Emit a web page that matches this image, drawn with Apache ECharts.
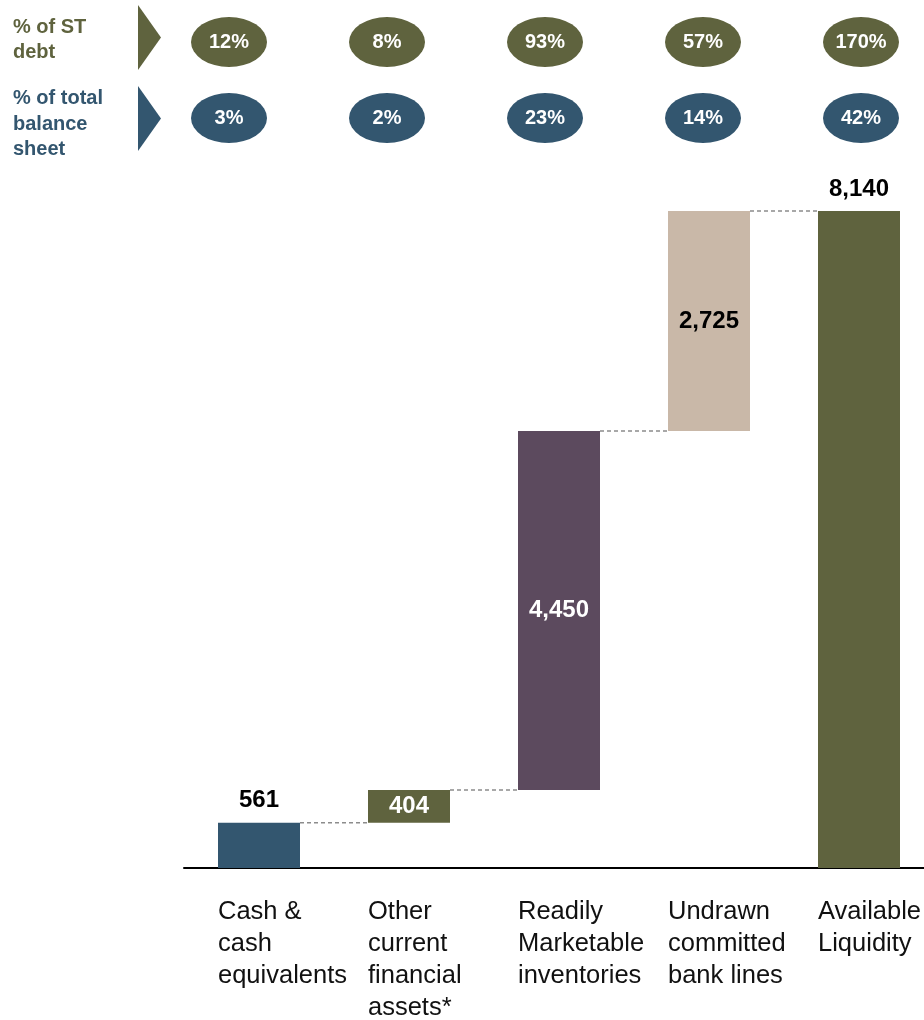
<!DOCTYPE html>
<html>
<head>
<meta charset="utf-8">
<script src="https://cdn.jsdelivr.net/npm/echarts@6/dist/echarts.min.js"></script>
<style>
  html, body { margin: 0; padding: 0; background: #fff; }
  #chart { width: 924px; height: 1020px; }
</style>
</head>
<body>
<div id="chart"></div>
<script>
// Liquidity build-up (waterfall)
const categories = [
  'Cash &\ncash\nequivalents',
  'Other\ncurrent\nfinancial\nassets*',
  'Readily\nMarketable\ninventories',
  'Undrawn\ncommitted\nbank lines',
  'Available\nLiquidity'
];
const values = [561, 404, 4450, 2725, 8140];
const isTotal = [false, false, false, false, true];
const valueLabels = ['561', '404', '4,450', '2,725', '8,140'];

// Ratio rows shown above the bars
const rowLabels = ['% of ST\ndebt', '% of total\nbalance\nsheet'];
const pctOfSTDebt = [12, 8, 93, 57, 170];
const pctOfBalanceSheet = [3, 2, 23, 14, 42];

const OLIVE = '#5f633e';
const BLUE = '#33566f';
const PURPLE = '#5c4a5e';
const TAN = '#c9b8a8';
const barColors = [BLUE, OLIVE, PURPLE, TAN, OLIVE];
const FONT = "'Liberation Sans', Arial, sans-serif";

// invisible base for the floating steps
const bases = [];
let running = 0;
values.forEach((v, i) => {
  if (isTotal[i]) { bases.push(0); }
  else { bases.push(running); running += v; }
});
// connector levels: top of each step
const connectors = [];
values.forEach((v, i) => {
  if (i < values.length - 1) connectors.push([i, bases[i] + v]);
});

const labelStyles = [
  { position: 'top', color: '#000', distance: 10 },
  { position: 'inside', color: '#fff' },
  { position: 'inside', color: '#fff' },
  { position: 'inside', color: '#000' },
  { position: 'top', color: '#000', distance: 10 }
];

const chart = echarts.init(document.getElementById('chart'), null, { renderer: 'canvas' });

const BAR_W = 82;

chart.setOption({
  backgroundColor: '#fff',
  animation: false,
  textStyle: { fontFamily: FONT },
  grid: [
    { left: 184, top: 61, width: 750, height: 807, outerBoundsMode: 'none' },   // bars
    { left: 143, top: 61, width: 750, height: 807, outerBoundsMode: 'none' },   // category text, left-aligned with bars
    { left: 150, top: 4, width: 790, height: 152, outerBoundsMode: 'none' },    // ratio ellipses
    { left: 150, top: -2, width: 100, height: 168, outerBoundsMode: 'none' }    // ratio row headings
  ],
  xAxis: [
    {
      type: 'category', gridIndex: 0, data: categories,
      axisLine: { lineStyle: { color: '#000', width: 2 } },
      axisTick: { show: false }, axisLabel: { show: false }
    },
    {
      type: 'category', gridIndex: 1, data: categories,
      axisLine: { show: false }, axisTick: { show: false },
      axisLabel: {
        align: 'left', margin: 28, interval: 0,
        fontFamily: FONT, fontSize: 25.5, lineHeight: 32, color: '#111'
      }
    },
    { type: 'category', gridIndex: 2, data: categories, show: false },
    { type: 'value', gridIndex: 3, min: 0, max: 1, show: false }
  ],
  yAxis: [
    { type: 'value', gridIndex: 0, min: 0, max: 10000, show: false },
    { type: 'value', gridIndex: 1, min: 0, max: 10000, show: false },
    { type: 'category', gridIndex: 2, data: rowLabels, inverse: true, show: false },
    {
      type: 'category', gridIndex: 3, data: rowLabels, inverse: true,
      axisLine: { show: false }, axisTick: { show: false },
      axisLabel: {
        align: 'left', margin: 137, interval: 0,
        fontFamily: FONT, fontSize: 20, fontWeight: 'bold', lineHeight: 25.5,
        color: (val, idx) => idx === 0 ? OLIVE : BLUE
      }
    }
  ],
  graphic: [
    { type: 'polygon', shape: { points: [[138, 5], [161, 37.5], [138, 70]] }, style: { fill: OLIVE } },
    { type: 'polygon', shape: { points: [[138, 86], [161, 118.5], [138, 151]] }, style: { fill: BLUE } }
  ],
  series: [
    {
      type: 'bar', xAxisIndex: 0, yAxisIndex: 0, stack: 'wf',
      barWidth: BAR_W, silent: true,
      itemStyle: { color: 'transparent' },
      data: bases
    },
    {
      type: 'bar', xAxisIndex: 0, yAxisIndex: 0, stack: 'wf',
      barWidth: BAR_W,
      data: values.map((v, i) => ({
        value: v,
        itemStyle: { color: barColors[i] },
        label: Object.assign({
          show: true, formatter: valueLabels[i],
          fontFamily: FONT, fontSize: 24, fontWeight: 'bold'
        }, labelStyles[i])
      }))
    },
    {
      // dashed connectors between consecutive steps
      type: 'custom', xAxisIndex: 0, yAxisIndex: 0, silent: true,
      data: connectors,
      renderItem: (params, api) => {
        const i = api.value(0);
        const lvl = api.value(1);
        const p1 = api.coord([i, lvl]);
        const p2 = api.coord([i + 1, lvl]);
        return {
          type: 'line',
          shape: { x1: p1[0] + BAR_W / 2, y1: p1[1], x2: p2[0] - BAR_W / 2, y2: p2[1] },
          style: { stroke: '#8c8c8c', lineWidth: 1.5, lineDash: [4, 3] }
        };
      }
    },
    {
      type: 'scatter', xAxisIndex: 2, yAxisIndex: 2,
      symbol: 'circle', symbolSize: [76, 50],
      itemStyle: { color: OLIVE, opacity: 1 },
      label: {
        show: true, position: 'inside', color: '#fff',
        fontFamily: FONT, fontSize: 20, fontWeight: 'bold',
        formatter: p => p.value[2] + '%'
      },
      data: pctOfSTDebt.map((v, i) => [i, 0, v])
    },
    {
      type: 'scatter', xAxisIndex: 2, yAxisIndex: 2,
      symbol: 'circle', symbolSize: [76, 50],
      itemStyle: { color: BLUE, opacity: 1 },
      label: {
        show: true, position: 'inside', color: '#fff',
        fontFamily: FONT, fontSize: 20, fontWeight: 'bold',
        formatter: p => p.value[2] + '%'
      },
      data: pctOfBalanceSheet.map((v, i) => [i, 1, v])
    }
  ]
});
</script>
</body>
</html>
